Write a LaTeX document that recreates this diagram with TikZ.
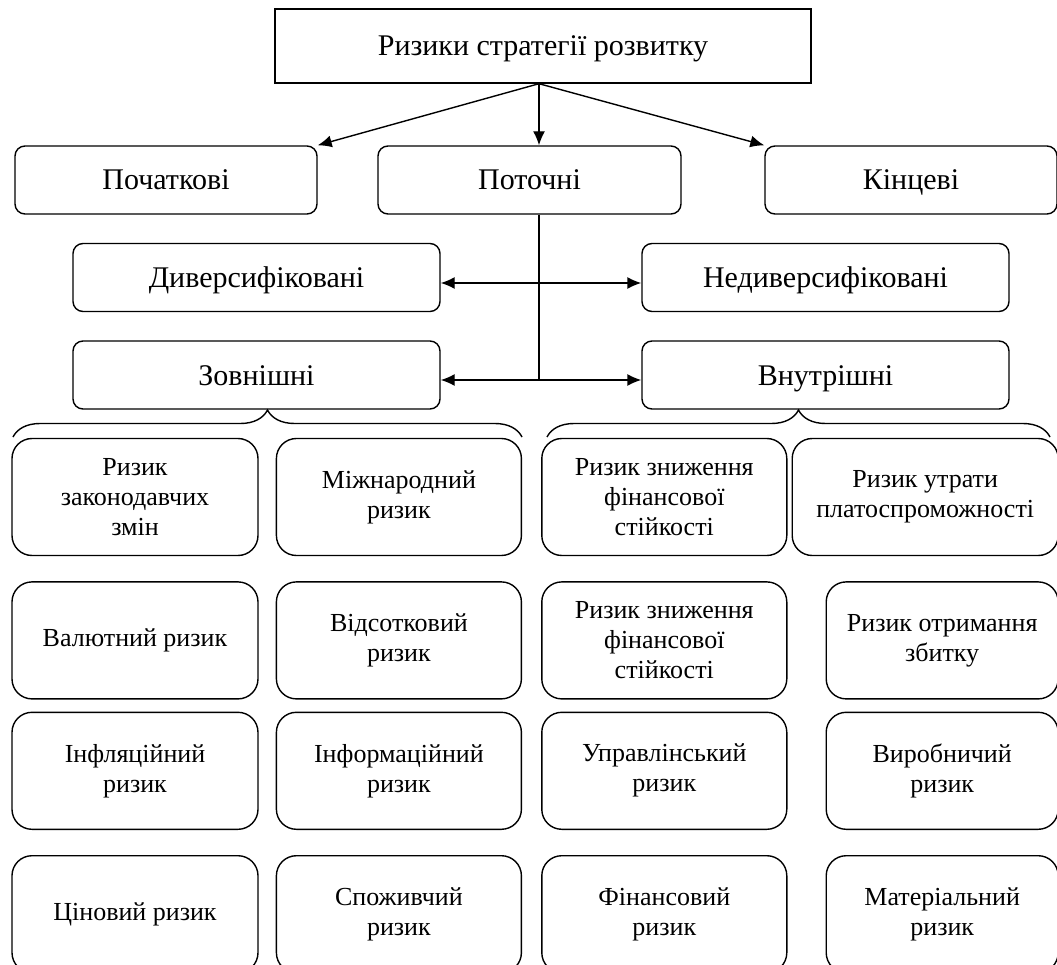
\documentclass[tikz,border=0pt]{standalone}
\usepackage{fontspec}
\setmainfont{Liberation Serif}
\usetikzlibrary{positioning}
\usetikzlibrary{arrows.meta}
\usetikzlibrary{decorations.pathreplacing}

\begin{document}
\begin{tikzpicture}[x=1pt, y=-1pt, line width=1.4pt,
    head/.style={draw, rectangle, minimum width=536pt, minimum height=74pt, inner sep=0pt, text height=20pt, text depth=0pt, font=\fontsize{30}{36}\selectfont},
    kind/.style={draw, rounded corners=10pt, minimum width=302pt, minimum height=68pt, inner sep=0pt, text height=20pt, text depth=0pt, font=\fontsize{30}{36}\selectfont},
    risk/.style={draw, rounded corners=20pt, minimum width=245pt, minimum height=117pt, inner sep=0pt, align=center, font=\fontsize{26}{30}\selectfont},
    arr/.style={-{Latex[length=14pt,width=12pt]}},
    brc/.style={decorate, decoration={brace, amplitude=27pt}}]

    \useasboundingbox (0,0) rectangle (1057,965);

    \node[head] (top) at (543,46) {Ризики стратегії розвитку};

    \node[kind] (ini) at (166,180) {Початкові};
    \node[kind, minimum width=303pt] (cur) at (529.5,180) {Поточні};
    \node[kind, minimum width=292pt] (fin) at (911,180) {Кінцеві};

    \node[kind, minimum width=367pt] (div) at (256.5,277.5) {Диверсифіковані};
    \node[kind, minimum width=367pt] (ndiv) at (825.5,277.5) {Недиверсифіковані};
    \node[kind, minimum width=367pt] (ext) at (256.5,375) {Зовнішні};
    \node[kind, minimum width=367pt] (int) at (825.5,375) {Внутрішні};

    \coordinate (hub) at (539,380);
    \coordinate (mid) at (539,283);

    \draw[arr] (hub |- top.south) -- (ini.north east);
    \draw[arr] (hub |- top.south) -- (hub |- cur.north);
    \draw[arr] (hub |- top.south) -- (fin.north west);
    \draw (hub |- cur.south) -- (hub);
    \draw[arr] (mid) -- (mid -| div.east);
    \draw[arr] (mid) -- (mid -| ndiv.west);
    \draw[arr] (hub) -- (hub -| ext.east);
    \draw[arr] (hub) -- (hub -| int.west);

    \coordinate (bl1) at (13,437);
    \coordinate (bl2) at (522,437);
    \coordinate (br1) at (547,437);
    \coordinate (br2) at (1050,437);
    \draw[brc] (bl1) -- (bl2);
    \draw[brc] (br1) -- (br2);

    \node[risk, minimum width=246pt] (a1) at (135,497) {Ризик\\законодавчих\\змін};
    \node[risk, right=17pt of a1] (a2) {Міжнародний\\ризик};
    \node[risk, right=19pt of a2] (a3) {Ризик зниження\\фінансової\\стійкості};
    \node[risk, minimum width=266pt, right=4pt of a3] (a4) {Ризик утрати\\платоспроможності};

    \node[risk, minimum width=246pt, below=25pt of a1] (b1) {Валютний ризик};
    \node[risk, right=17pt of b1] (b2) {Відсотковий\\ризик};
    \node[risk, right=19pt of b2] (b3) {Ризик зниження\\фінансової\\стійкості};
    \node[risk, minimum width=232pt, right=38pt of b3] (b4) {Ризик отримання\\збитку};

    \node[risk, minimum width=246pt, below=12pt of b1] (c1) {Інфляційний\\ризик};
    \node[risk, right=17pt of c1] (c2) {Інформаційний\\ризик};
    \node[risk, right=19pt of c2] (c3) {Управлінський\\ризик};
    \node[risk, minimum width=232pt, right=38pt of c3] (c4) {Виробничий\\ризик};

    \node[risk, minimum width=246pt, below=25pt of c1] (d1) {Ціновий ризик};
    \node[risk, right=17pt of d1] (d2) {Споживчий\\ризик};
    \node[risk, right=19pt of d2] (d3) {Фінансовий\\ризик};
    \node[risk, minimum width=232pt, right=38pt of d3] (d4) {Матеріальний\\ризик};
\end{tikzpicture}
\end{document}
